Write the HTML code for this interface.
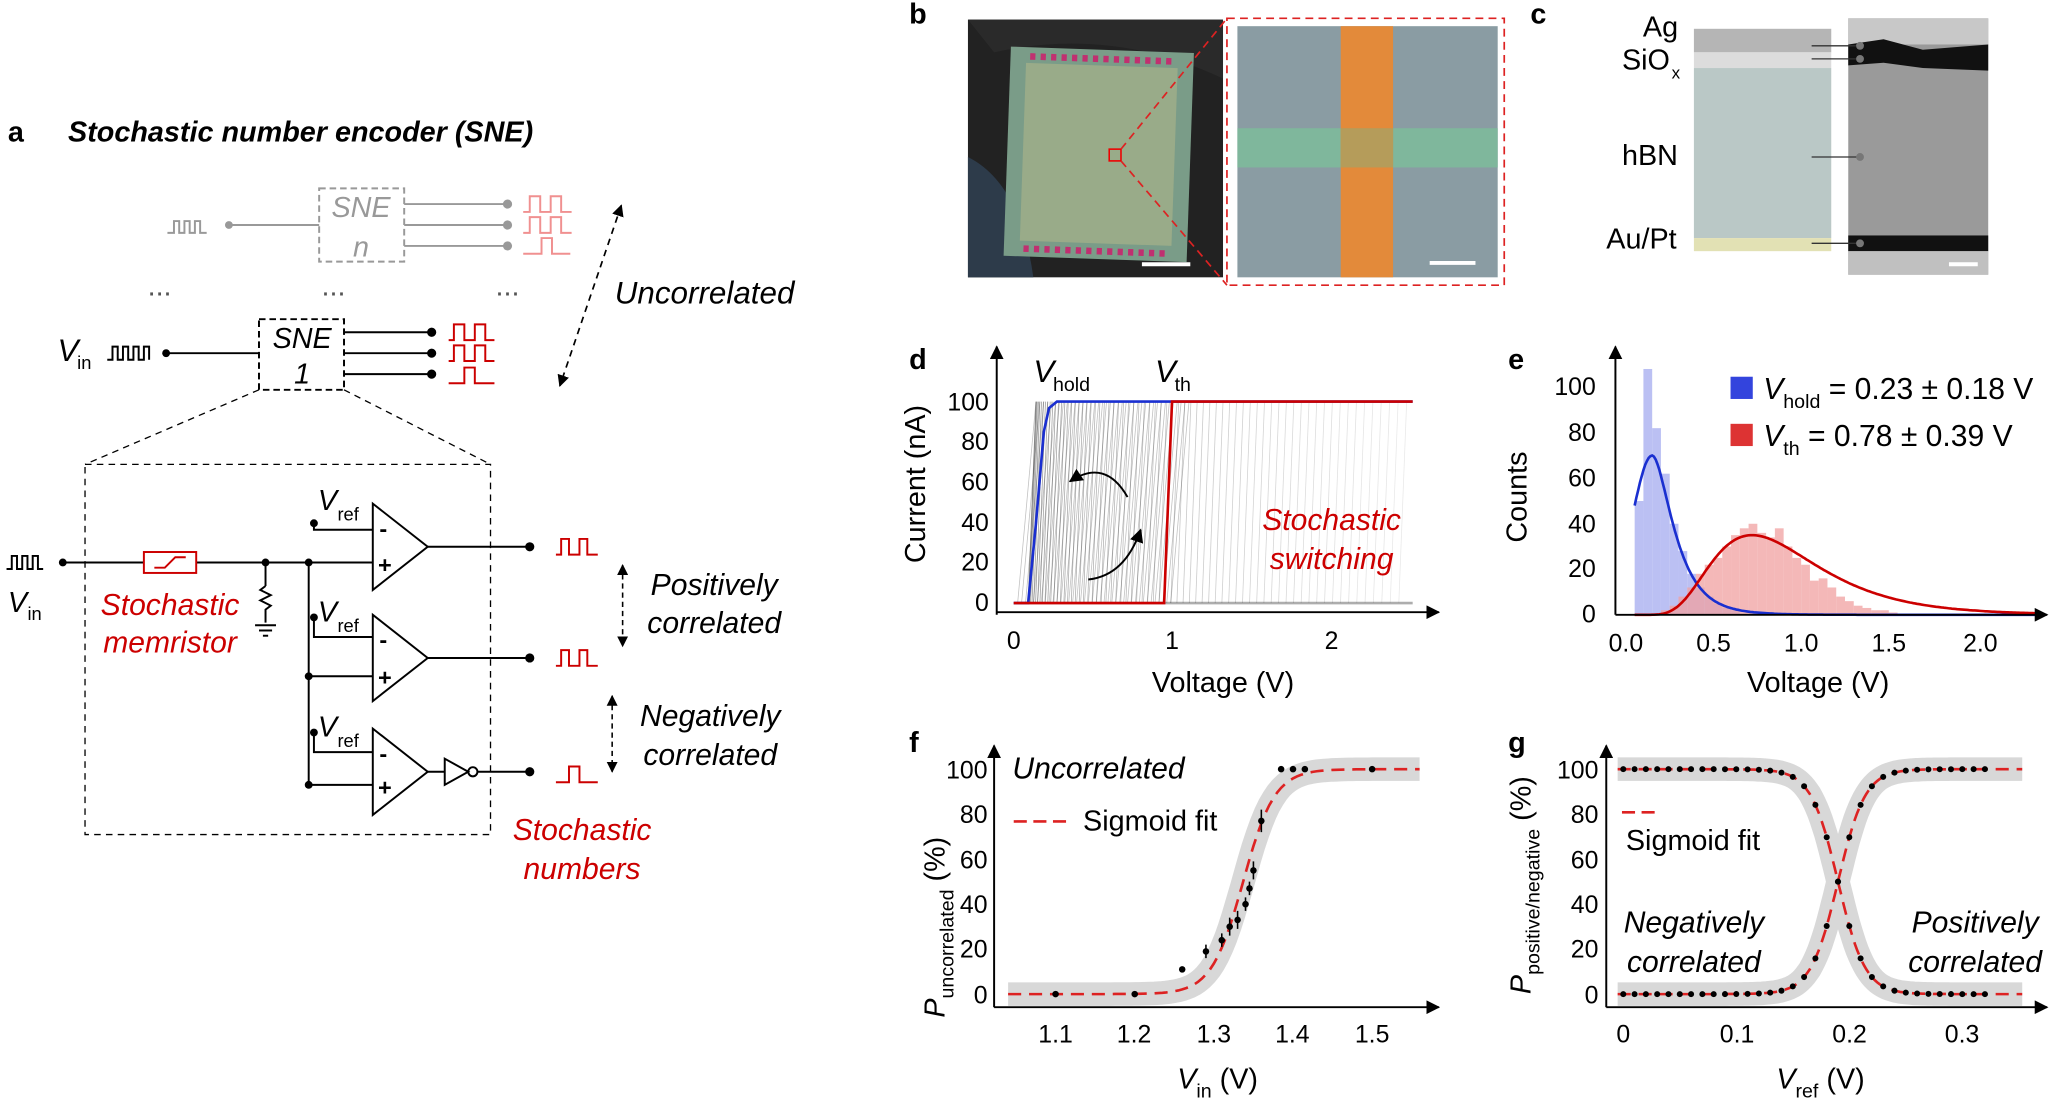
<!DOCTYPE html>
<html><head><meta charset="utf-8"><style>
html,body{margin:0;padding:0;background:#fff;}
svg{display:block;font-family:"Liberation Sans",Arial,sans-serif;}
</style></head><body>
<svg id="s" width="2051" height="1098" viewBox="0 0 1568 839.4" xmlns="http://www.w3.org/2000/svg">
<defs>
<marker id="ah" viewBox="0 0 10 10" refX="9" refY="5" markerWidth="7" markerHeight="7" orient="auto-start-reverse"><path d="M0,0L10,5L0,10z" fill="#000"/></marker>
</defs>
<g font-size="22">
<!-- Panel a -->
<text x="6" y="108" font-weight="bold">a</text>
<text x="52" y="108" font-weight="bold" font-style="italic">Stochastic number encoder (SNE)</text>
<g stroke="#999" fill="none" stroke-width="1.5">
<path d="M128,178h5v-9h4v9h4v-9h4v9h4v-9h4v9h5"/>
<line x1="175" y1="172" x2="244" y2="172"/>
<rect x="244" y="144" width="65" height="56" stroke-dasharray="5,3"/>
<line x1="309" y1="156" x2="388" y2="156"/><line x1="309" y1="172" x2="388" y2="172"/><line x1="309" y1="188" x2="388" y2="188"/>
</g>
<g fill="#999"><circle cx="175" cy="172" r="3"/><circle cx="388" cy="156" r="3.5"/><circle cx="388" cy="172" r="3.5"/><circle cx="388" cy="188" r="3.5"/></g>
<g stroke="#f09090" fill="none" stroke-width="1.5">
<path d="M400,162h5v-12h8v12h8v-12h8v12h8"/><path d="M400,178h5v-12h8v12h8v-12h8v12h8"/><path d="M400,194h14v-12h8v12h14"/>
</g>
<text x="276" y="166" text-anchor="middle" font-style="italic" fill="#999">SNE</text>
<text x="276" y="196" text-anchor="middle" font-style="italic" fill="#999">n</text>
<text x="122" y="226" text-anchor="middle" fill="#555">...</text><text x="255" y="226" text-anchor="middle" fill="#555">...</text><text x="388" y="226" text-anchor="middle" fill="#555">...</text>
<text x="470" y="232" font-size="24" font-style="italic">Uncorrelated</text>
<line x1="475" y1="157" x2="428" y2="295" stroke="#000" stroke-width="1.3" stroke-dasharray="5,4" marker-start="url(#ah)" marker-end="url(#ah)"/>
<text x="44" y="276" font-size="24" font-style="italic">V</text><text x="59" y="282" font-size="14">in</text>
<g stroke="#000" fill="none" stroke-width="1.5">
<path d="M82,275h4v-10h4v10h4v-10h4v10h4v-10h4v10h4v-10h4v10"/>
<line x1="127" y1="270" x2="198" y2="270"/>
<rect x="198" y="244" width="65" height="54" stroke-dasharray="5,3"/>
<line x1="263" y1="254" x2="330" y2="254"/><line x1="263" y1="270" x2="330" y2="270"/><line x1="263" y1="286" x2="330" y2="286"/>
</g>
<g fill="#000"><circle cx="127" cy="270" r="3"/><circle cx="330" cy="254" r="3.5"/><circle cx="330" cy="270" r="3.5"/><circle cx="330" cy="286" r="3.5"/></g>
<g stroke="#c00" fill="none" stroke-width="1.5">
<path d="M343,260h4v-12h8v12h8v-12h8v12h7"/><path d="M343,276h4v-12h8v12h8v-12h8v12h7"/><path d="M343,293h12v-12h8v12h15"/>
</g>
<text x="231" y="266" text-anchor="middle" font-style="italic">SNE</text>
<text x="231" y="293" text-anchor="middle" font-style="italic">1</text>
<g stroke="#000" fill="none" stroke-width="1" stroke-dasharray="5,4">
<line x1="198" y1="298" x2="65" y2="355"/><line x1="263" y1="298" x2="375" y2="355"/>
<rect x="65" y="355" width="310" height="283"/>
</g>
<g stroke="#000" fill="none" stroke-width="1.5">
<path d="M5,435h4v-10h4v10h4v-10h4v10h4v-10h4v10h4"/>
<line x1="48" y1="430" x2="110" y2="430"/><line x1="150" y1="430" x2="285" y2="430"/>
<line x1="203" y1="430" x2="203" y2="448"/>
<path d="M203,448l-4,3l8,4l-8,4l8,4l-4,3v10"/>
<line x1="195" y1="478" x2="211" y2="478"/><line x1="198" y1="482" x2="208" y2="482"/><line x1="201" y1="486" x2="205" y2="486"/>
<line x1="236" y1="430" x2="236" y2="600"/>
<line x1="236" y1="517" x2="285" y2="517"/><line x1="236" y1="600" x2="285" y2="600"/>
<path d="M285,385L327,418L285,451z"/><path d="M285,470L327,503L285,536z"/><path d="M285,557L327,590L285,623z"/>
<path d="M240,400v5h45"/><path d="M240,472v15h45"/><path d="M240,560v15h45"/>
<line x1="327" y1="418" x2="405" y2="418"/><line x1="327" y1="503" x2="405" y2="503"/>
<line x1="327" y1="590" x2="340" y2="590"/><path d="M340,580L358,590L340,600z"/><circle cx="361.5" cy="590" r="3.5"/><line x1="365" y1="590" x2="405" y2="590"/>
</g>
<rect x="110" y="422" width="40" height="16" fill="none" stroke="#c00" stroke-width="1.5"/>
<path d="M118,434h8l8,-8h8" stroke="#c00" fill="none" stroke-width="1.5"/>
<g fill="#000"><circle cx="48" cy="430" r="3"/><circle cx="203" cy="430" r="3"/><circle cx="236" cy="430" r="3"/><circle cx="236" cy="517" r="3"/><circle cx="236" cy="600" r="3"/><circle cx="240" cy="400" r="3"/><circle cx="240" cy="472" r="3"/><circle cx="240" cy="560" r="3"/><circle cx="405" cy="418" r="3.5"/><circle cx="405" cy="503" r="3.5"/><circle cx="405" cy="590" r="3.5"/></g>
<g font-size="18" font-weight="bold" fill="#000"><text x="290" y="410">-</text><text x="289" y="438">+</text><text x="290" y="495">-</text><text x="289" y="524">+</text><text x="290" y="582">-</text><text x="289" y="608">+</text></g>
<g font-style="italic"><text x="243" y="390">V</text><text x="243" y="475">V</text><text x="243" y="563">V</text></g>
<g font-size="14"><text x="258" y="398">ref</text><text x="258" y="483">ref</text><text x="258" y="571">ref</text></g>
<text x="6" y="468" font-style="italic">V</text><text x="21" y="474" font-size="14">in</text>
<g stroke="#c00" fill="none" stroke-width="1.5">
<path d="M425,424h4v-12h6v12h8v-12h6v12h8"/><path d="M425,509h4v-12h6v12h8v-12h6v12h8"/><path d="M425,598h10v-12h8v12h14"/>
</g>
<g fill="#c00" font-style="italic" text-anchor="middle" font-size="23"><text x="130" y="470">Stochastic</text><text x="130" y="499">memristor</text><text x="445" y="642">Stochastic</text><text x="445" y="672">numbers</text></g>
<g font-style="italic" text-anchor="middle" font-size="23"><text x="546" y="455">Positively</text><text x="546" y="484">correlated</text><text x="543" y="555">Negatively</text><text x="543" y="585">correlated</text></g>
<line x1="476" y1="432" x2="476" y2="494" stroke="#000" stroke-width="1.2" stroke-dasharray="4,3" marker-start="url(#ah)" marker-end="url(#ah)"/>
<line x1="468" y1="532" x2="468" y2="590" stroke="#000" stroke-width="1.2" stroke-dasharray="4,3" marker-start="url(#ah)" marker-end="url(#ah)"/>

<!-- Panel b -->
<text x="695" y="18" font-weight="bold">b</text>
<rect x="740" y="15" width="195" height="197" fill="#222"/>
<path d="M740,120 Q780,140 790,212 H740z" fill="#2d3b4a"/>
<path d="M740,15 H935 V60 Q850,20 760,40z" fill="#2a2a2a"/>
<rect x="770" y="38" width="140" height="160" fill="#7a9c88" transform="rotate(2 840 118)"/>
<rect x="782" y="50" width="116" height="136" fill="#b7b98a" opacity="0.5" transform="rotate(2 840 118)"/>
<g stroke="#c03070" stroke-width="5" stroke-dasharray="4,4" transform="rotate(2 840 118)">
<line x1="785" y1="45" x2="895" y2="45"/><line x1="785" y1="192" x2="895" y2="192"/>
</g>
<rect x="848" y="114" width="9" height="9" fill="none" stroke="#e00" stroke-width="1.2"/>
<line x1="873" y1="202" x2="910" y2="202" stroke="#fff" stroke-width="3"/>
<g stroke="#d22" stroke-width="1.3" stroke-dasharray="6,4" fill="none">
<line x1="857" y1="114" x2="938" y2="14"/><line x1="857" y1="123" x2="938" y2="218"/>
<rect x="938" y="14" width="212" height="204"/>
</g>
<rect x="946" y="20" width="199" height="192" fill="#8a9ca3"/>
<rect x="946" y="98" width="199" height="30" fill="#7fb79c"/>
<rect x="1025" y="20" width="40" height="192" fill="#e38a3a"/>
<rect x="1025" y="98" width="40" height="30" fill="#b59c5a"/>
<line x1="1093" y1="201" x2="1128" y2="201" stroke="#fff" stroke-width="3"/>

<!-- Panel c -->
<text x="1170" y="18" font-weight="bold">c</text>
<rect x="1295" y="22" width="105" height="18" fill="#b5b5b5"/>
<rect x="1295" y="40" width="105" height="12" fill="#dcdcdc"/>
<rect x="1295" y="52" width="105" height="130" fill="#bac8c6"/>
<rect x="1295" y="182" width="105" height="10" fill="#e2e1b4"/>
<rect x="1413" y="14" width="107" height="196" fill="#9a9a9a"/>
<rect x="1413" y="14" width="107" height="20" fill="#c8c8c8"/>
<path d="M1413,34 L1440,30 L1470,38 L1520,34 V54 L1470,52 L1440,48 L1413,50z" fill="#111"/>
<rect x="1413" y="180" width="107" height="12" fill="#111"/>
<rect x="1413" y="192" width="107" height="18" fill="#c0c0c0"/>
<line x1="1490" y1="202" x2="1512" y2="202" stroke="#fff" stroke-width="3"/>
<g stroke="#333" stroke-width="1"><line x1="1385" y1="35" x2="1422" y2="35"/><line x1="1385" y1="45" x2="1422" y2="45"/><line x1="1385" y1="120" x2="1422" y2="120"/><line x1="1385" y1="186" x2="1422" y2="186"/></g>
<g fill="#777"><circle cx="1422" cy="35" r="3"/><circle cx="1422" cy="45" r="3"/><circle cx="1422" cy="120" r="3"/><circle cx="1422" cy="186" r="3"/></g>
<text x="1256" y="28">Ag</text><text x="1240" y="53">SiO</text><text x="1278" y="60" font-size="13">x</text>
<text x="1240" y="126">hBN</text><text x="1228" y="190">Au/Pt</text>

<!-- Panel d -->
<text x="695" y="282" font-weight="bold">d</text>
<g id="dlines" stroke="#333" stroke-width="0.6" fill="none"></g>
<path d="M775,461 H786 L792,400 L798,330 L802,312 L808,307 H1080" stroke="#1a2fd0" stroke-width="2" fill="none"/>
<path d="M775,461 H890 L896,307 H1080" stroke="#c00" stroke-width="2" fill="none"/>
<path d="M862,380 Q845,350 818,368" stroke="#000" stroke-width="1.5" fill="none" marker-end="url(#ah)"/>
<path d="M832,443 Q860,440 872,405" stroke="#000" stroke-width="1.5" fill="none" marker-end="url(#ah)"/>
<line x1="762" y1="470" x2="762" y2="265" stroke="#000" stroke-width="1.5" marker-end="url(#ah)"/>
<line x1="762" y1="468" x2="1100" y2="468" stroke="#000" stroke-width="1.5" marker-end="url(#ah)"/>
<g font-size="19" text-anchor="end"><text x="756" y="467">0</text><text x="756" y="436">20</text><text x="756" y="406">40</text><text x="756" y="375">60</text><text x="756" y="344">80</text><text x="756" y="314">100</text></g>
<g font-size="19" text-anchor="middle"><text x="775" y="496">0</text><text x="896" y="496">1</text><text x="1018" y="496">2</text></g>
<text x="935" y="529" text-anchor="middle" font-size="22">Voltage (V)</text>
<text transform="translate(707,370) rotate(-90)" text-anchor="middle" font-size="22">Current (nA)</text>
<text x="790" y="292" font-style="italic" font-size="24">V</text><text x="805" y="299" font-size="15">hold</text>
<text x="883" y="292" font-style="italic" font-size="24">V</text><text x="898" y="299" font-size="15">th</text>
<g fill="#c00" font-style="italic" text-anchor="middle" font-size="23"><text x="1018" y="405">Stochastic</text><text x="1018" y="435">switching</text></g>

<!-- Panel e -->
<text x="1153" y="282" font-weight="bold">e</text>
<g id="ebars"></g>
<path id="bluec" stroke="#1a2fd0" stroke-width="2" fill="none"/>
<path id="redc" stroke="#c00" stroke-width="2" fill="none"/>
<line x1="1235" y1="470" x2="1235" y2="265" stroke="#000" stroke-width="1.5" marker-end="url(#ah)"/>
<line x1="1235" y1="470" x2="1565" y2="470" stroke="#000" stroke-width="1.5" marker-end="url(#ah)"/>
<g font-size="19" text-anchor="end"><text x="1220" y="476">0</text><text x="1220" y="441">20</text><text x="1220" y="407">40</text><text x="1220" y="372">60</text><text x="1220" y="337">80</text><text x="1220" y="302">100</text></g>
<g font-size="19" text-anchor="middle"><text x="1243" y="498">0.0</text><text x="1310" y="498">0.5</text><text x="1377" y="498">1.0</text><text x="1444" y="498">1.5</text><text x="1514" y="498">2.0</text></g>
<text x="1390" y="529" text-anchor="middle" font-size="22">Voltage (V)</text>
<text transform="translate(1167,380) rotate(-90)" text-anchor="middle" font-size="22">Counts</text>
<rect x="1323" y="288" width="17" height="17" fill="#3344dd"/>
<rect x="1323" y="324" width="17" height="17" fill="#dd3333"/>
<text x="1348" y="305" font-size="23"><tspan font-style="italic">V</tspan><tspan font-size="15" dy="7">hold</tspan><tspan dy="-7"> = 0.23 ± 0.18 V</tspan></text>
<text x="1348" y="341" font-size="23"><tspan font-style="italic">V</tspan><tspan font-size="15" dy="7">th</tspan><tspan dy="-7"> = 0.78 ± 0.39 V</tspan></text>

<!-- Panel f -->
<text x="695" y="575" font-weight="bold">f</text>
<path id="fband" stroke="#d8d8d8" stroke-width="18" fill="none" stroke-linejoin="round"/>
<path id="fcurve" stroke="#d22" stroke-width="2" stroke-dasharray="10,6" fill="none"/>
<g id="fpts"></g>
<line x1="760" y1="770" x2="760" y2="570" stroke="#000" stroke-width="1.5" marker-end="url(#ah)"/>
<line x1="760" y1="770" x2="1100" y2="770" stroke="#000" stroke-width="1.5" marker-end="url(#ah)"/>
<g font-size="19" text-anchor="end"><text x="755" y="767">0</text><text x="755" y="732">20</text><text x="755" y="698">40</text><text x="755" y="664">60</text><text x="755" y="629">80</text><text x="755" y="595">100</text></g>
<g font-size="19" text-anchor="middle"><text x="807" y="797">1.1</text><text x="867" y="797">1.2</text><text x="928" y="797">1.3</text><text x="988" y="797">1.4</text><text x="1049" y="797">1.5</text></g>
<text x="900" y="832" font-size="22"><tspan font-style="italic">V</tspan><tspan font-size="15" dy="7">in</tspan><tspan dy="-7"> (V)</tspan></text>
<text transform="translate(722,778) rotate(-90)" font-size="22"><tspan font-style="italic">P</tspan><tspan font-size="15" dy="7">uncorrelated</tspan><tspan dy="-7"> (%)</tspan></text>
<text x="774" y="595" font-style="italic" font-size="23">Uncorrelated</text>
<line x1="775" y1="628" x2="820" y2="628" stroke="#d22" stroke-width="2" stroke-dasharray="10,5"/>
<text x="828" y="635" font-size="22">Sigmoid fit</text>

<!-- Panel g -->
<text x="1153" y="575" font-weight="bold">g</text>
<path id="gband1" stroke="#d8d8d8" stroke-width="18" fill="none"/>
<path id="gband2" stroke="#d8d8d8" stroke-width="18" fill="none"/>
<path id="gc1" stroke="#d22" stroke-width="2" stroke-dasharray="10,6" fill="none"/>
<path id="gc2" stroke="#d22" stroke-width="2" stroke-dasharray="10,6" fill="none"/>
<g id="gpts"></g>
<line x1="1228" y1="770" x2="1228" y2="570" stroke="#000" stroke-width="1.5" marker-end="url(#ah)"/>
<line x1="1228" y1="770" x2="1565" y2="770" stroke="#000" stroke-width="1.5" marker-end="url(#ah)"/>
<g font-size="19" text-anchor="end"><text x="1222" y="767">0</text><text x="1222" y="732">20</text><text x="1222" y="698">40</text><text x="1222" y="664">60</text><text x="1222" y="629">80</text><text x="1222" y="595">100</text></g>
<g font-size="19" text-anchor="middle"><text x="1241" y="797">0</text><text x="1328" y="797">0.1</text><text x="1414" y="797">0.2</text><text x="1500" y="797">0.3</text></g>
<text x="1358" y="832" font-size="22"><tspan font-style="italic">V</tspan><tspan font-size="15" dy="7">ref</tspan><tspan dy="-7"> (V)</tspan></text>
<text transform="translate(1170,760) rotate(-90)" font-size="22"><tspan font-style="italic">P</tspan><tspan font-size="15" dy="7">positive/negative</tspan><tspan dy="-7"> (%)</tspan></text>
<line x1="1240" y1="621" x2="1266" y2="621" stroke="#d22" stroke-width="2" stroke-dasharray="10,5"/>
<text x="1243" y="650" font-size="22">Sigmoid fit</text>
<g font-style="italic" font-size="23" text-anchor="middle"><text x="1295" y="713">Negatively</text><text x="1295" y="743">correlated</text><text x="1510" y="713">Positively</text><text x="1510" y="743">correlated</text></g>
</g>
</svg>
<script>
var NS="http://www.w3.org/2000/svg";
function el(p,t,a){var e=document.createElementNS(NS,t);for(var k in a)e.setAttribute(k,a[k]);p.appendChild(e);return e;}
var dl=document.getElementById("dlines");
for(var i=0;i<70;i++){
 var x1=790+Math.pow(i/70,1.6)*290;
 var op=(0.5-0.4*i/70).toFixed(2);
 el(dl,"path",{d:"M"+(x1-4)+",461 L"+(x1+2)+",307",opacity:op});
}
for(var i=0;i<40;i++){
 var x2=778+i*3;
 el(dl,"path",{d:"M"+x2+",461 L"+(x2+14)+",307",opacity:"0.3"});
}
el(dl,"line",{x1:775,y1:461,x2:1080,y2:461,"stroke-width":2,opacity:0.4});
var eb=document.getElementById("ebars");
function xe(v){return 1243+v*134;} function ye(c){return 470-c*1.74;}
var blue=[50,108,82,62,40,28,18,12,8,5,3,2];
for(var i=0;i<blue.length;i++){el(eb,"rect",{x:xe(0.05+i*0.05),y:ye(blue[i]),width:6.7,height:blue[i]*1.74,fill:"#aab0f0",opacity:0.8});}
var red=[2,4,8,12,18,22,25,30,35,38,40,36,34,38,30,25,22,15,16,12,8,6,4,3,2,2,1];
for(var i=0;i<red.length;i++){el(eb,"rect",{x:xe(0.2+i*0.05),y:ye(red[i]),width:6.7,height:red[i]*1.74,fill:"#f0a0a0",opacity:0.75});}
var b="",r="";
for(var v=0.05;v<=2.35;v+=0.01){
 var cb=70*Math.exp(-Math.pow(Math.log(v/0.15),2)/(2*0.55*0.55));
 if(v<0.15)cb=48+22*Math.sin((v-0.05)/0.1*Math.PI/2);
 b+=(b?"L":"M")+xe(v).toFixed(1)+","+ye(cb).toFixed(1);
 var cr=35*Math.exp(-Math.pow(Math.log(v/0.72),2)/(2*0.42*0.42));
 r+=(r?"L":"M")+xe(v).toFixed(1)+","+ye(cr).toFixed(1);
}
document.getElementById("bluec").setAttribute("d",b);
document.getElementById("redc").setAttribute("d",r);
function xf(v){return 807+(v-1.1)*605;} function yf(p){return 760-p*1.72;}
function sf(v){return 100/(1+Math.exp(-(v-1.337)/0.02));}
var f="";for(var v=1.04;v<=1.56;v+=0.005){f+=(f?"L":"M")+xf(v).toFixed(1)+","+yf(sf(v)).toFixed(1);}
document.getElementById("fband").setAttribute("d",f);
document.getElementById("fcurve").setAttribute("d",f);
var fp=document.getElementById("fpts");
var pts=[[1.1,0,0],[1.2,0,0],[1.26,11,1],[1.29,19,3],[1.31,24,3],[1.32,30,4],[1.33,33,4],[1.34,40,3],[1.345,47,3],[1.35,55,4],[1.36,77,5],[1.385,100,0],[1.4,100,0],[1.415,100,0],[1.5,100,0]];
pts.forEach(function(p){var x=xf(p[0]),y=yf(p[1]);if(p[2]){el(fp,"line",{x1:x,y1:yf(p[1]-p[2]),x2:x,y2:yf(p[1]+p[2]),stroke:"#000","stroke-width":1.2});}el(fp,"circle",{cx:x,cy:y,r:2.5,fill:"#000"});});
function xg(v){return 1241+v*864;}
function s1(v){return 100/(1+Math.exp((v-0.19)/0.012));}
var g1="",g2="";for(var v=-0.005;v<=0.355;v+=0.002){g1+=(g1?"L":"M")+xg(v).toFixed(1)+","+yf(s1(v)).toFixed(1);g2+=(g2?"L":"M")+xg(v).toFixed(1)+","+yf(100-s1(v)).toFixed(1);}
["gband1","gc1"].forEach(function(id){document.getElementById(id).setAttribute("d",g1);});
["gband2","gc2"].forEach(function(id){document.getElementById(id).setAttribute("d",g2);});
var gp=document.getElementById("gpts");
for(var v=0;v<=0.33;v+=0.01){el(gp,"circle",{cx:xg(v),cy:yf(s1(v)),r:2.3,fill:"#000"});el(gp,"circle",{cx:xg(v),cy:yf(100-s1(v)),r:2.3,fill:"#000"});}
</script>
</body></html>
